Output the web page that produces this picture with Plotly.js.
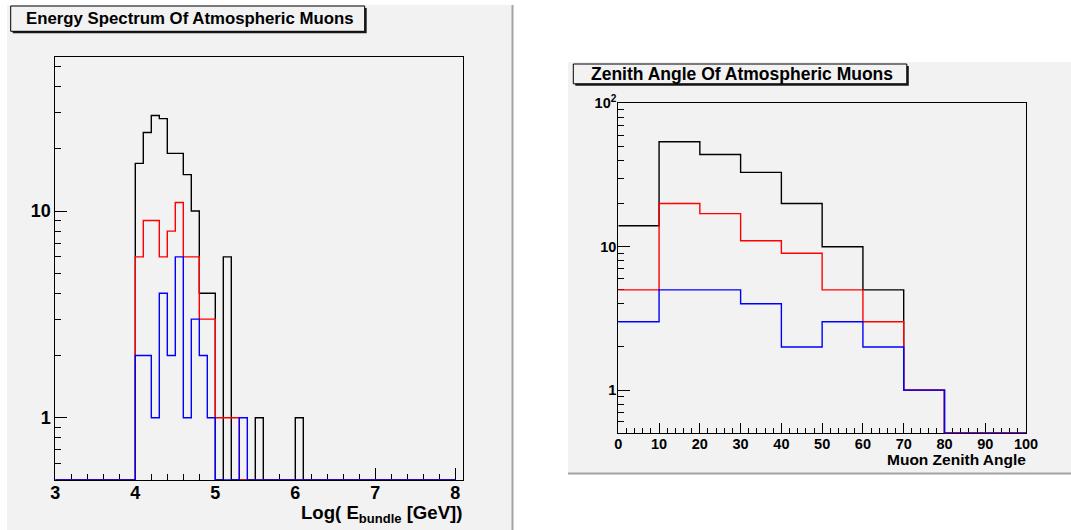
<!DOCTYPE html>
<html>
<head>
<meta charset="utf-8">
<script src="https://cdn.plot.ly/plotly-3.0.1.min.js"></script>
<style>
  html, body { margin: 0; padding: 0; background: #ffffff; }
  #chart { width: 1071px; height: 530px; }
</style>
</head>
<body>
<div id="chart"></div>
<script>
// ---- Energy spectrum: 50 bins of 0.1 in Log(E_bundle), 3.0 .. 8.0 ----
const energyRange = [3.0, 8.0];
const energyBlack = [0,0,0,0,0,0,0,0,0,0, 17,24,29,28,19,19,15,10,4,4, 0,6,0,0,0,1,0,0,0,0, 1,0,0,0,0,0,0,0,0,0, 0,0,0,0,0,0,0,0,0,0];
const energyRed   = [0,0,0,0,0,0,0,0,0,0, 6,9,9,6,8,11,6,6,3,3, 1,1,1,0,0,0,0,0,0,0, 0,0,0,0,0,0,0,0,0,0, 0,0,0,0,0,0,0,0,0,0];
const energyBlue  = [0,0,0,0,0,0,0,0,0,0, 2,2,1,4,2,6,1,3,2,1, 0,0,0,1,0,0,0,0,0,0, 0,0,0,0,0,0,0,0,0,0, 0,0,0,0,0,0,0,0,0,0];
const energyTicks = [3, 4, 5, 6, 7, 8];

// ---- Zenith angle: 10 bins of 10 degrees, 0 .. 100 ----
const zenithRange = [0, 100];
const zenithBlack = [14, 54, 44, 33, 20, 10, 5, 1, 0, 0];
const zenithRed   = [5, 20, 17, 11, 9, 5, 3, 1, 0, 0];
const zenithBlue  = [3, 5, 5, 4, 2, 3, 2, 1, 0, 0];
const zenithTicks = [0, 10, 20, 30, 40, 50, 60, 70, 80, 90, 100];

const W = 1071, H = 530;
const FONT = 'Liberation Sans, Arial, Helvetica, sans-serif';
const LOG_MIN = 0.5;           // lowest value shown on both log axes
const LEFT_MAX = 55.8;
const RIGHT_MAX = 100;

// pixel -> paper helpers for the pad decoration
const px = x => x / W;
const py = y => 1 - y / H;

function binEdges(range, n) {
  const w = (range[1] - range[0]) / n;
  const e = [];
  for (let i = 0; i <= n; i++) e.push(+(range[0] + i * w).toFixed(6));
  return e;
}

// ROOT-style step histogram; empty bins sit on the log-axis floor
function stepTrace(counts, range, color, xa, ya) {
  const edges = binEdges(range, counts.length);
  const ys = counts.map(c => (c > 0 ? c : LOG_MIN));
  ys.push(ys[ys.length - 1]);
  return {
    type: 'scatter', mode: 'lines', x: edges, y: ys,
    xaxis: xa, yaxis: ya,
    line: { shape: 'hv', color: color, width: 1.4 },
    hoverinfo: 'skip', showlegend: false
  };
}

const traces = [
  stepTrace(energyBlack, energyRange, '#000000', 'x', 'y'),
  stepTrace(energyRed,   energyRange, '#ff0000', 'x', 'y'),
  stepTrace(energyBlue,  energyRange, '#0000ff', 'x', 'y'),
  stepTrace(zenithBlack, zenithRange, '#000000', 'x2', 'y2'),
  stepTrace(zenithRed,   zenithRange, '#ff0000', 'x2', 'y2'),
  stepTrace(zenithBlue,  zenithRange, '#0000ff', 'x2', 'y2')
];

const logMinor = [0.6, 0.7, 0.8, 0.9, 2, 3, 4, 5, 6, 7, 8, 9, 20, 30, 40, 50, 60, 70, 80, 90];

const frame = {
  showline: true, linecolor: '#000000', linewidth: 1, mirror: true,
  showgrid: false, zeroline: false, ticks: 'inside', tickcolor: '#000000',
  tickwidth: 1, layer: 'below traces', fixedrange: true
};

const layout = {
  width: W, height: H,
  margin: { l: 0, r: 0, t: 0, b: 0 },
  paper_bgcolor: '#ffffff',
  plot_bgcolor: '#f2f2f2',
  showlegend: false,
  font: { family: FONT, color: '#000000' },
  xaxis: Object.assign({}, frame, {
    domain: [px(55.3), px(462.7)],
    range: [3, 8.0925],
    tickmode: 'array', tickvals: energyTicks, ticklen: 12,
    ticklabelstandoff: -4,
    tickfont: { family: FONT, size: 18, weight: 'bold' },
    minor: { tickmode: 'linear', tick0: 3, dtick: 0.2, ticks: 'inside', ticklen: 6, tickcolor: '#000000', tickwidth: 1 },
    anchor: 'y'
  }),
  yaxis: Object.assign({}, frame, {
    type: 'log',
    domain: [py(480), py(56.7)],
    range: [Math.log10(LOG_MIN), Math.log10(LEFT_MAX)],
    tickmode: 'array', tickvals: [1, 10], ticktext: ['1', '10'], ticklen: 12,
    tickfont: { family: FONT, size: 18, weight: 'bold' },
    minor: { tickmode: 'array', tickvals: logMinor, ticks: 'inside', ticklen: 6, tickcolor: '#000000', tickwidth: 1 },
    anchor: 'x'
  }),
  xaxis2: Object.assign({}, frame, {
    domain: [px(618.3), px(1026)],
    range: zenithRange,
    tickmode: 'array', tickvals: zenithTicks, ticklen: 10,
    ticklabelstandoff: -3,
    tickfont: { family: FONT, size: 14.5, weight: 'bold' },
    minor: { tickmode: 'linear', tick0: 0, dtick: 2, ticks: 'inside', ticklen: 5, tickcolor: '#000000', tickwidth: 1 },
    anchor: 'y2'
  }),
  yaxis2: Object.assign({}, frame, {
    type: 'log',
    domain: [py(433.3), py(103.3)],
    range: [Math.log10(LOG_MIN), Math.log10(RIGHT_MAX)],
    tickmode: 'array', tickvals: [1, 10, 100], ticktext: ['1', '10', '10<sup>2</sup>'], ticklen: 12,
    ticklabelstandoff: -2,
    tickfont: { family: FONT, size: 14.5, weight: 'bold' },
    minor: { tickmode: 'array', tickvals: logMinor, ticks: 'inside', ticklen: 6, tickcolor: '#000000', tickwidth: 1 },
    anchor: 'x2'
  }),
  shapes: [
    // canvas pads
    { type: 'rect', xref: 'paper', yref: 'paper', layer: 'below',
      x0: px(7), x1: px(512), y0: py(530), y1: py(5), fillcolor: '#f2f2f2', line: { width: 0 } },
    { type: 'rect', xref: 'paper', yref: 'paper', layer: 'below',
      x0: px(511.5), x1: px(513.5), y0: py(530), y1: py(5), fillcolor: '#a3a3a3', line: { width: 0 } },
    { type: 'rect', xref: 'paper', yref: 'paper', layer: 'below',
      x0: px(568), x1: px(1071), y0: py(473), y1: py(62), fillcolor: '#f2f2f2', line: { width: 0 } },
    { type: 'rect', xref: 'paper', yref: 'paper', layer: 'below',
      x0: px(568), x1: px(1071), y0: py(474.5), y1: py(472.5), fillcolor: '#a3a3a3', line: { width: 0 } },
    // title boxes with drop shadow
    { type: 'rect', xref: 'paper', yref: 'paper',
      x0: px(12.7), x1: px(366.7), y0: py(33.3), y1: py(8), fillcolor: '#1a1a1a', line: { width: 0 } },
    { type: 'rect', xref: 'paper', yref: 'paper',
      x0: px(10.7), x1: px(364.7), y0: py(31.3), y1: py(6), fillcolor: '#f2f2f2', line: { color: '#000000', width: 1 } },
    { type: 'rect', xref: 'paper', yref: 'paper',
      x0: px(575.3), x1: px(908.8), y0: py(85.8), y1: py(66), fillcolor: '#1a1a1a', line: { width: 0 } },
    { type: 'rect', xref: 'paper', yref: 'paper',
      x0: px(573.3), x1: px(906.8), y0: py(83.8), y1: py(64), fillcolor: '#f2f2f2', line: { color: '#000000', width: 1 } }
  ],
  annotations: [
    { xref: 'paper', yref: 'paper', x: px(23.5), y: py(19), xanchor: 'left', yanchor: 'middle',
      text: 'Energy Spectrum Of Atmospheric Muons', showarrow: false,
      font: { family: FONT, size: 16.8, weight: 'bold', color: '#000000' } },
    { xref: 'paper', yref: 'paper', x: px(588.5), y: py(74.2), xanchor: 'left', yanchor: 'middle',
      text: 'Zenith Angle Of Atmospheric Muons', showarrow: false,
      font: { family: FONT, size: 17.5, weight: 'bold', color: '#000000' } },
    { xref: 'paper', yref: 'paper', x: px(464), y: py(499.5), xanchor: 'right', yanchor: 'top',
      text: 'Log( E<sub>bundle</sub> [GeV])', showarrow: false,
      font: { family: FONT, size: 18.6, weight: 'bold', color: '#000000' } },
    { xref: 'paper', yref: 'paper', x: px(1027.5), y: py(449), xanchor: 'right', yanchor: 'top',
      text: 'Muon Zenith Angle', showarrow: false,
      font: { family: FONT, size: 15.5, weight: 'bold', color: '#000000' } }
  ]
};

Plotly.newPlot('chart', traces, layout, { displayModeBar: false, staticPlot: true });
</script>
</body>
</html>
